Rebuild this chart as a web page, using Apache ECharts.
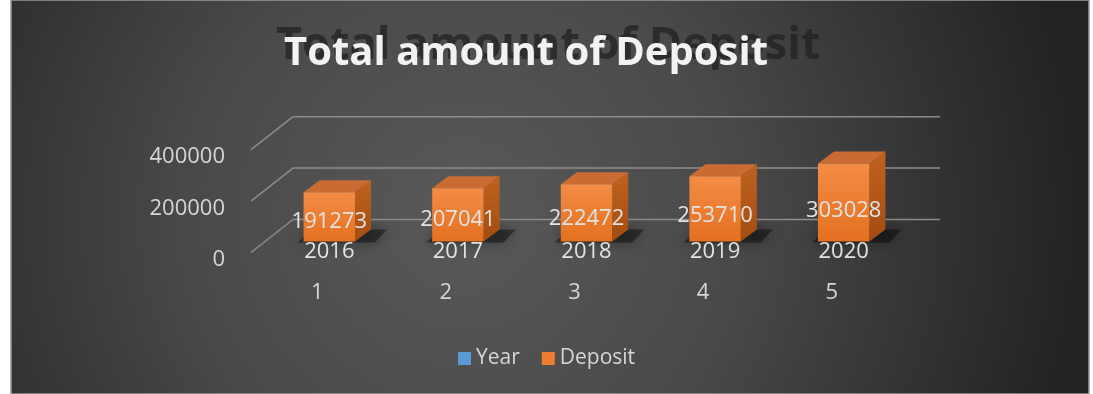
<!DOCTYPE html>
<html>
<head>
<meta charset="utf-8">
<script src="https://cdn.jsdelivr.net/npm/echarts@6/dist/echarts.min.js"></script>
<style>
  html, body { margin: 0; padding: 0; background: #ffffff; }
  #chart { width: 1093px; height: 394px; }
</style>
</head>
<body>
<div id="chart"></div>
<script>
// data
const categories = ['1', '2', '3', '4', '5'];
const years = [2016, 2017, 2018, 2019, 2020];
const deposits = [191273, 207041, 222472, 253710, 303028];
const yTicks = [0, 200000, 400000];

const chart = echarts.init(document.getElementById('chart'));

// fake 3d: depth of a bar, and where the front / back walls sit
const DX = 16, DY = -12;
const FRONT = [-14, 11];
const BACK = [28, -22];
const labelFont = '"Open Sans", "Liberation Sans", sans-serif';

function renderWalls(params, api) {
  const cs = params.coordSys;
  const y = api.coord([0, api.value(1)])[1];
  const left = cs.x, right = cs.x + cs.width;
  const lineStyle = { stroke: '#8c8c8c', lineWidth: 1.5 };
  return {
    type: 'group',
    children: [
      { type: 'line', shape: { x1: left + FRONT[0], y1: y + FRONT[1], x2: left + BACK[0], y2: y + BACK[1] }, style: lineStyle },
      { type: 'line', shape: { x1: left + BACK[0], y1: y + BACK[1], x2: right + BACK[0] + 4, y2: y + BACK[1] }, style: lineStyle }
    ]
  };
}

function renderBar(params, api) {
  const idx = api.value(0);
  const v = api.value(1);
  const base = api.coord([idx, 0]);
  const top = api.coord([idx, v]);
  const w = api.size([1, 0])[0] * 0.4;
  const x0 = base[0] - w / 2, x1 = base[0] + w / 2;
  const yb = base[1], yt = top[1];
  const lbl = api.coord([idx, v * 0.4])[1];
  return {
    type: 'group',
    children: [
      { // soft shadow on the floor
        type: 'polygon',
        shape: { points: [[x0 - 6, yb + 1], [x1 + 20, yb + 1], [x1 + 32, yb - 12], [x0 + 8, yb - 12]] },
        style: { fill: 'rgba(0,0,0,0.4)', shadowBlur: 14, shadowColor: 'rgba(0,0,0,1)' }
      },
      { // side
        type: 'polygon',
        shape: { points: [[x1, yt], [x1 + DX, yt + DY], [x1 + DX, yb + DY], [x1, yb]] },
        style: { fill: new echarts.graphic.LinearGradient(0, 0, 0, 1, [
          { offset: 0, color: '#c0621f' }, { offset: 1, color: '#a34c12' }]) }
      },
      { // top
        type: 'polygon',
        shape: { points: [[x0, yt], [x0 + DX, yt + DY], [x1 + DX, yt + DY], [x1, yt]] },
        style: { fill: '#c96c34' }
      },
      { // front
        type: 'rect',
        shape: { x: x0, y: yt, width: w, height: yb - yt },
        style: { fill: new echarts.graphic.LinearGradient(0, 0, 0, 1, [
          { offset: 0, color: '#f38c46' }, { offset: 1, color: '#e4701f' }]) }
      },
      {
        type: 'text',
        style: {
          text: String(v), x: base[0], y: lbl, align: 'center', verticalAlign: 'middle',
          fill: '#e3e3e3', font: '22px ' + labelFont
        }
      }
    ]
  };
}

function renderYear(params, api) {
  const idx = api.value(0);
  const base = api.coord([idx, 0]);
  return {
    type: 'text',
    z2: 10,
    style: {
      text: String(api.value(1)), x: base[0], y: base[1] + 10, align: 'center', verticalAlign: 'middle',
      fill: '#e3e3e3', font: '22px ' + labelFont
    }
  };
}

const option = {
  backgroundColor: '#ffffff',
  animation: false,
  graphic: [
    {
      type: 'rect', z: -10, silent: true,
      shape: { x: 11, y: 0, width: 1078, height: 394 },
      style: {
        fill: new echarts.graphic.RadialGradient(0.42, 0.55, 1.55, [
          { offset: 0, color: '#595959' }, { offset: 0.45, color: '#494949' }, { offset: 1, color: '#232323' }]),
        stroke: '#9a9a9a', lineWidth: 1.5
      }
    },
    { // blurred reflection behind the title
      type: 'text', z: -5, silent: true,
      style: {
        text: 'Total amount of Deposit', x: 276, y: 46, verticalAlign: 'middle',
        font: 'bold 45px "Open Sans", sans-serif', fill: 'rgba(34,34,34,0.75)',
        shadowBlur: 5, shadowColor: 'rgba(20,20,20,0.9)'
      }
    }
  ],
  title: {
    text: 'Total amount of Deposit',
    left: 279,
    top: 29,
    textStyle: { color: '#f2f2f2', fontSize: 40, fontWeight: 'bold', fontFamily: '"Open Sans", sans-serif' }
  },
  legend: {
    data: ['Year', 'Deposit'],
    left: 453,
    top: 343,
    icon: 'rect',
    itemWidth: 13,
    itemHeight: 13,
    itemGap: 22,
    textStyle: { color: '#d6d6d6', fontSize: 21, fontFamily: labelFont }
  },
  grid: [
    // plane of the bar fronts
    { left: 265, right: 185, top: 138.7, bottom: 152.5 },
    // front plane, only carries the value labels
    { left: 265, right: 185, top: 157.2, bottom: 134 }
  ],
  xAxis: [
    {
      type: 'category',
      data: categories,
      gridIndex: 0,
      axisLine: { show: false },
      axisTick: { show: false },
      axisLabel: { color: '#d6d6d6', fontSize: 22, fontFamily: labelFont, margin: 40, padding: [0, 24, 0, 0] }
    },
    { type: 'category', data: categories, gridIndex: 1, show: false }
  ],
  yAxis: [
    {
      type: 'value', gridIndex: 0,
      min: 0, max: 400000, interval: 200000,
      splitLine: { show: false },
      axisLine: { show: false },
      axisTick: { show: false },
      axisLabel: { show: false }
    },
    {
      type: 'value', gridIndex: 1,
      min: 0, max: 400000, interval: 200000,
      splitLine: { show: false },
      axisLine: { show: false },
      axisTick: { show: false },
      axisLabel: { color: '#d6d6d6', fontSize: 22, fontFamily: labelFont, margin: 40, formatter: v => String(v) }
    }
  ],
  series: [
    {
      name: 'walls',
      type: 'custom',
      renderItem: renderWalls,
      data: yTicks.map(t => [0, t]),
      silent: true,
      z: 1
    },
    {
      name: 'Year',
      type: 'custom',
      renderItem: renderYear,
      itemStyle: { color: '#5b9bd5' },
      data: years.map((y, i) => [i, y]),
      z: 4
    },
    {
      name: 'Deposit',
      type: 'custom',
      renderItem: renderBar,
      itemStyle: { color: '#ed7d31' },
      data: deposits.map((d, i) => [i, d]),
      z: 3
    }
  ]
};

chart.setOption(option);
</script>
</body>
</html>
